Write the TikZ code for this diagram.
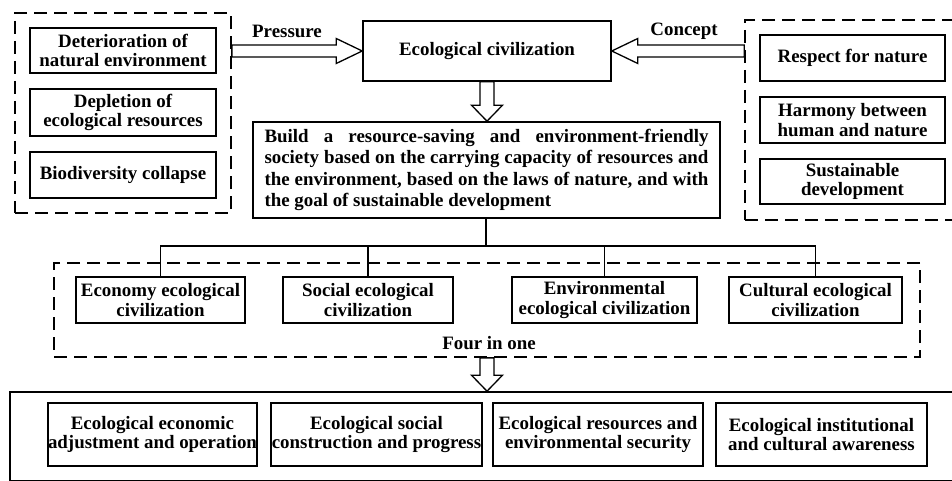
\documentclass[tikz,border=0pt]{standalone}
\usepackage{fontspec}
\setmainfont{Liberation Serif}
\usetikzlibrary{calc}
\newcommand\myfs{\fontsize{18.9}{19.2}\selectfont}
\newcommand\mybfs{\fontsize{18.9}{21.5}\selectfont}
\begin{document}
\begin{tikzpicture}[x=1pt,y=-1pt,
  box/.style={draw,line width=1.6pt,inner sep=0pt,align=center,font=\bfseries\myfs},
  dbox/.style={draw,line width=1.7pt,dash pattern=on 13pt off 7pt,inner sep=0pt},
  lbl/.style={font=\bfseries\myfs,inner sep=0pt},
  conn/.style={line width=1.5pt},
  barrow/.style={draw,line width=1.3pt,fill=white,line join=miter}]
\useasboundingbox (0,0) rectangle (952,481);
\clip (0,0) rectangle (952,481);
% dashed groups
\node[dbox,minimum width=216,minimum height=200] (ldash) at (123,113) {};
\node[dbox,minimum width=215,minimum height=200] (rdash) at (852.5,120) {};
\node[dbox,minimum width=866,minimum height=94] (mdash) at (487,310) {};
\node[draw,line width=1.6pt,inner sep=0pt,minimum width=950,minimum height=89] (bbox) at (485,436.5) {};
% left boxes
\node[box,minimum width=186,minimum height=45] (L1) at (123,50.5) {Deterioration of\\natural environment};
\node[box,minimum width=186,minimum height=47] (L2) at (123,112.5) {Depletion of\\ecological resources};
\node[box,minimum width=186,minimum height=46] (L3) at (123,175) {Biodiversity collapse};
% right boxes
\node[box,minimum width=185,minimum height=46] (R1) at (852.5,58) {Respect for nature};
\node[box,minimum width=185,minimum height=46] (R2) at (852.5,120) {Harmony between\\human and nature};
\node[box,minimum width=185,minimum height=45] (R3) at (852.5,181.5) {Sustainable\\development};
% center
\node[box,minimum width=248,minimum height=60] (eco) at (487,51) {Ecological civilization};
\node[box,minimum width=467,minimum height=96,align=left,font=\bfseries\mybfs] (build) at (486.5,170)
 {\makebox[444pt][s]{Build a resource-saving and environment-friendly}\\
  \makebox[444pt][s]{society based on the carrying capacity of resources and}\\
  \makebox[444pt][s]{the environment, based on the laws of nature, and with}\\
  \makebox[444pt][l]{the goal of sustainable development}};
\node[lbl] (pres) at (287,31) {Pressure};
\node[lbl] (conc) at (684,31) {Concept};
% middle boxes
\node[box,minimum width=169,minimum height=46] (M1) at (160.5,300) {Economy ecological\\civilization};
\node[box,minimum width=170,minimum height=46] (M2) at (368,300) {Social ecological\\civilization};
\node[box,minimum width=185,minimum height=46] (M3) at (604.5,300) {Environmental\\ecological civilization};
\node[box,minimum width=173,minimum height=46] (M4) at (815.5,300) {Cultural ecological\\civilization};
\node[lbl] (four) at (489,343) {Four in one};
% bottom boxes
\node[box,minimum width=209,minimum height=63] (B1) at (152.5,434.5) {Ecological economic\\adjustment and operation};
\node[box,minimum width=211,minimum height=63] (B2) at (376.5,434.5) {Ecological social\\construction and progress};
\node[box,minimum width=210,minimum height=63] (B3) at (598,434.5) {Ecological resources and\\environmental security};
\node[box,minimum width=211,minimum height=63] (B4) at (821.5,434.5) {Ecological institutional\\and cultural awareness};
% tree
\coordinate (j) at (486,246);
\draw[conn] (build.south -| j) -- (j);
\draw[conn] (M1.north) |- (j);
\draw[conn] (M2.north) |- (j);
\draw[conn] (M3.north) |- (j);
\draw[conn] (M4.north) |- (j);
% block arrows
\draw[barrow] let \p1=(ldash.east |- eco.west), \p2=(eco.west) in
  (\x1,\y1+6pt) -- (\x2-26pt,\y1+6pt) -- (\x2-26pt,\y1+12.5pt) -- (\x2,\y1)
  -- (\x2-26pt,\y1-12.5pt) -- (\x2-26pt,\y1-6pt) -- (\x1,\y1-6pt) -- cycle;
\draw[barrow] let \p1=(rdash.west |- eco.east), \p2=(eco.east) in
  (\x1,\y1+6pt) -- (\x2+26pt,\y1+6pt) -- (\x2+26pt,\y1+12.5pt) -- (\x2,\y1)
  -- (\x2+26pt,\y1-12.5pt) -- (\x2+26pt,\y1-6pt) -- (\x1,\y1-6pt) -- cycle;
\draw[barrow] let \p1=(eco.south), \p2=(build.north) in
  (\x1-7pt,\y1) -- (\x1-7pt,\y2+16pt) -- (\x1-15.5pt,\y2+16pt) -- (\x1,\y2)
  -- (\x1+15.5pt,\y2+16pt) -- (\x1+7pt,\y2+16pt) -- (\x1+7pt,\y1) -- cycle;
\draw[barrow] let \p1=(mdash.south), \p2=(bbox.north) in
  (\x1-7pt,\y1) -- (\x1-7pt,\y2+16pt) -- (\x1-15.5pt,\y2+16pt) -- (\x1,\y2)
  -- (\x1+15.5pt,\y2+16pt) -- (\x1+7pt,\y2+16pt) -- (\x1+7pt,\y1) -- cycle;
\end{tikzpicture}
\end{document}
